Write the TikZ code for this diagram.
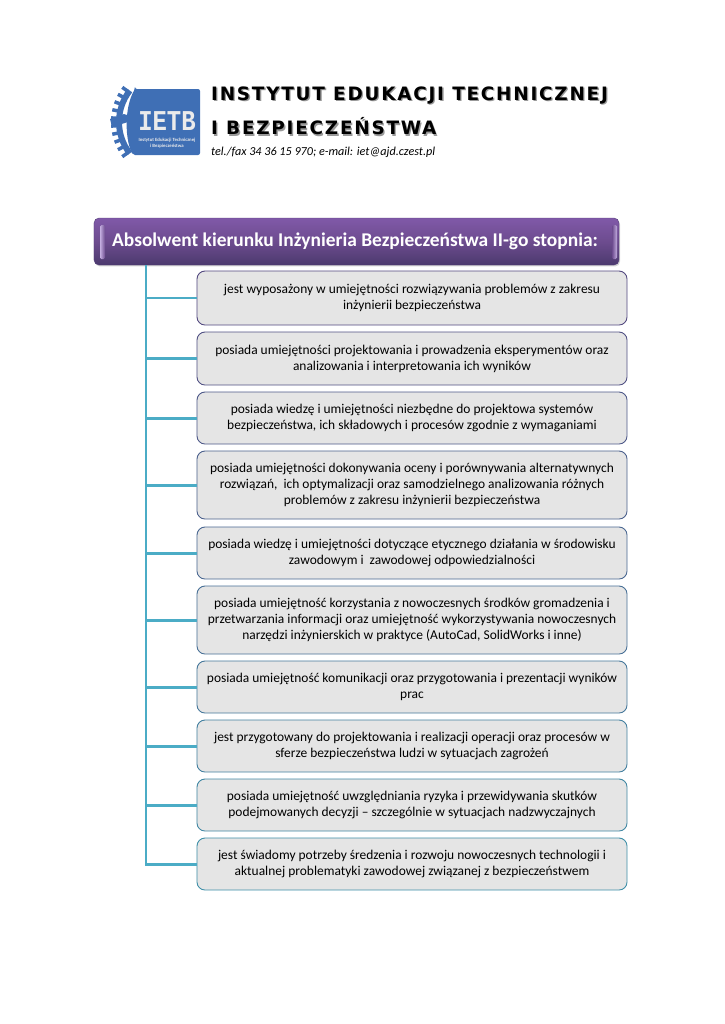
\documentclass[tikz,border=0pt]{standalone}
\usepackage{fontspec}
\setmainfont{Carlito}
\newfontfamily\headfont[LetterSpace=9.5]{DejaVu Sans Bold}
\newfontfamily\logofont{Liberation Mono}
\usetikzlibrary{shadows}
\definecolor{logoblue}{HTML}{3F6FB5}
\definecolor{barlight}{HTML}{8059A8}
\definecolor{barline}{HTML}{54407A}
\definecolor{barstrip}{HTML}{C4AEE0}
\definecolor{itemlow}{HTML}{3E8FA8}
\definecolor{linkblue}{HTML}{4BACC6}
\tikzset{
  bar/.style={draw=barline,rounded corners=5pt,top color=barlight,bottom color=barline!90!black,middle color=barlight!85!black,shading angle=0,drop shadow={shadow xshift=1pt,shadow yshift=-1.5pt,opacity=.35}},
  item/.style={draw=barline!#1!itemlow,line width=.9pt,fill=black!10,rounded corners=8pt,minimum width=430bp,align=center,font=\fontsize{13.5}{16}\selectfont,inner sep=0pt},
  link/.style={draw=linkblue,line width=3pt},
  headline/.style={anchor=west,font=\headfont\fontsize{18.5}{19}\selectfont,inner sep=0pt},
}
\newcommand{\headshadow}[1]{\rlap{\kern1.3pt\raisebox{-1.3pt}{\textcolor{black!40}{#1}}}#1}
\begin{document}
\begin{tikzpicture}[x=1bp,y=-1bp,>=latex]
\useasboundingbox (0,0) rectangle (725,1024);
%% logo
\fill [logoblue,rounded corners=2pt] (135,89) -- (200,89) -- (200,155) -- (133,155) .. controls (125,140) and (124,108) .. cycle;
\draw [logoblue,line width=6pt] (170,122) ++(142:51) arc (142:218:51);
\foreach \a in {144,152,...,216}
  \draw [logoblue,line width=3.5pt] (170,122) ++(\a:52) -- ++(\a:7);
\fill [logoblue] (110,119) -- (124,114) -- (130,116) -- (128,122) -- (112,127) -- cycle;
\node (logoname) at (167,121) [text=black!8,inner sep=0pt,font=\logofont\bfseries\fontsize{24}{24}\selectfont] {\scalebox{1}[1.2]{IETB}};
\node (logotext) at (167,143) [text=black!8,inner sep=0pt,align=center,font=\bfseries\fontsize{4.8}{5.6}\selectfont] {Instytut Edukacji Technicznej\\i Bezpieczeństwa};
%% header
\node (inst) at (211,96) [headline] {\headshadow{INSTYTUT EDUKACJI TECHNICZNEJ}};
\node (bezp) at (211,127) [headline] {\headshadow{I BEZPIECZEŃSTWA}};
\node (contact) at (211,152) [anchor=west,inner sep=0pt,font=\itshape\fontsize{12.2}{14}\selectfont] {tel./fax 34 36 15 970; e-mail: iet@ajd.czest.pl};
%% title
\node (title) at (356.5,241.5) [bar,minimum width=525bp,minimum height=47bp,inner sep=0pt,text=white,font=\bfseries\fontsize{19.5}{23}\selectfont] {\hspace*{-3bp}Absolwent kierunku Inżynieria Bezpieczeństwa II-go stopnia:};
\shade [left color=barstrip,right color=barlight!85!black,rounded corners=1.5pt] (100,225) rectangle (105,259);
\shade [left color=barlight!85!black,right color=barstrip,rounded corners=1.5pt] (612,225) rectangle (617,259);
%%
\node (item1) at (412,298) [item=90,minimum height=54bp] {jest wyposażony w umiejętności rozwiązywania problemów z zakresu\\inżynierii bezpieczeństwa};
\node (item2) at (412,358.5) [item=80,minimum height=53bp] {posiada umiejętności projektowania i prowadzenia eksperymentów oraz\\analizowania i interpretowania ich wyników};
\node (item3) at (412,418) [item=70,minimum height=52bp] {posiada wiedzę i umiejętności niezbędne do projektowa systemów\\bezpieczeństwa, ich składowych i procesów zgodnie z wymaganiami};
\node (item4) at (412,485) [item=60,minimum height=68bp] {posiada umiejętności dokonywania oceny i porównywania alternatywnych\\rozwiązań,\ \ ich optymalizacji oraz samodzielnego analizowania różnych\\problemów z zakresu inżynierii bezpieczeństwa};
\node (item5) at (412,553) [item=50,minimum height=52bp] {posiada wiedzę i umiejętności dotyczące etycznego działania w środowisku\\zawodowym i\ \ zawodowej odpowiedzialności};
\node (item6) at (412,620) [item=40,minimum height=68bp] {posiada umiejętność korzystania z nowoczesnych środków gromadzenia i\\przetwarzania informacji oraz umiejętność wykorzystywania nowoczesnych\\narzędzi inżynierskich w praktyce (AutoCad, SolidWorks i inne)};
\node (item7) at (412,687) [item=30,minimum height=52bp] {posiada umiejętność komunikacji oraz przygotowania i prezentacji wyników\\prac};
\node (item8) at (412,746) [item=20,minimum height=52bp] {jest przygotowany do projektowania i realizacji operacji oraz procesów w\\sferze bezpieczeństwa ludzi w sytuacjach zagrożeń};
\node (item9) at (412,805) [item=10,minimum height=52bp] {posiada umiejętność uwzględniania ryzyka i przewidywania skutków\\podejmowanych decyzji – szczególnie w sytuacjach nadzwyczajnych};
\node (item10) at (412,864) [item=0,minimum height=52bp] {jest świadomy potrzeby średzenia i rozwoju nowoczesnych technologii i\\aktualnej problematyki zawodowej związanej z bezpieczeństwem};
%%
\coordinate (trunk) at (146,265);
\foreach \n in {1,...,10}
  \draw [link] (trunk) |- (item\n.west);
\end{tikzpicture}
\end{document}
